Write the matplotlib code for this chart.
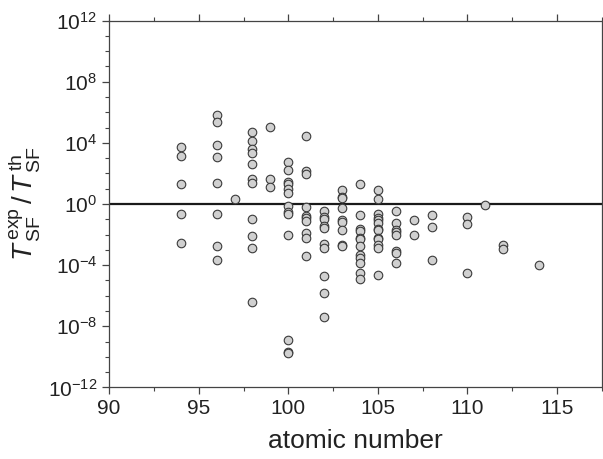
import matplotlib
matplotlib.use("Agg")
import matplotlib.pyplot as plt
from matplotlib.ticker import FixedLocator, FuncFormatter, MultipleLocator
import numpy as np

plt.rcParams['font.family'] = ['Liberation Sans', 'DejaVu Sans']
plt.rcParams['mathtext.fontset'] = 'custom'
plt.rcParams['mathtext.rm'] = 'Liberation Sans'
plt.rcParams['mathtext.it'] = 'Liberation Sans:italic'
plt.rcParams['mathtext.bf'] = 'Liberation Sans:bold'

# atomic number -> log10(T_exp / T_th)
z_values = {
    94: [3.71, 3.14, 1.29, -0.64, -2.52],
    96: [5.83, 5.35, 3.86, 3.10, 1.39, -0.64, -2.72, -3.69],
    97: [0.33],
    98: [4.73, 4.10, 3.62, 3.36, 2.62, 1.62, 1.40, -0.96, -2.10, -2.90, -6.38],
    99: [5.02, 1.63, 1.12],
    100: [2.75, 2.2, 1.44, 1.3, 1.0, 0.7, -0.16, -0.55, -0.66, -2.05, -8.87, -9.66, -9.75],
    101: [4.46, 2.17, 1.96, -0.22, -0.79, -0.94, -1.09, -1.88, -2.2, -3.37],
    102: [-0.43, -0.88, -1.0, -1.42, -1.6, -2.63, -2.85, -4.71, -5.8, -7.4],
    103: [0.93, 0.48, 0.38, -0.24, -1.05, -1.2, -1.69, -2.65, -2.74],
    104: [1.32, -0.74, -1.65, -1.78, -2.2, -2.32, -2.73, -3.35, -3.55, -3.87, -4.5, -4.9],
    105: [0.92, 0.36, -0.68, -0.92, -1.07, -1.22, -1.64, -1.72, -2.2, -2.32, -2.68, -2.86, -4.62],
    106: [-0.46, -1.26, -1.73, -1.85, -2.02, -3.08, -3.18, -3.84],
    107: [-1.06, -2.02],
    108: [-0.73, -1.52, -3.66],
    110: [-0.87, -1.31, -4.51],
    111: [-0.08],
    112: [-2.69, -2.92],
    114: [-3.96],
}

atomic_number = np.concatenate([[z] * len(v) for z, v in z_values.items()])
ratio = 10.0 ** np.concatenate(list(z_values.values()))

fig = plt.figure(figsize=(6.03, 4.59), dpi=100)
ax = fig.add_axes([0.181, 0.156, 0.817, 0.799])

ax.axhline(1.0, color='#1a1a1a', lw=1.6, zorder=1)
ax.scatter(atomic_number, ratio, s=38, facecolor='#d0d0d0',
           edgecolor='#3a3a3a', linewidths=0.8, zorder=2)

ax.set_yscale('log')
ax.set_xlim(90, 117.5)
ax.set_ylim(1e-12, 1e12)

ax.xaxis.set_major_locator(MultipleLocator(5))
ax.xaxis.set_minor_locator(MultipleLocator(2.5))
ax.yaxis.set_major_locator(FixedLocator([10.0 ** k for k in range(-12, 13, 4)]))
ax.yaxis.set_minor_locator(FixedLocator([10.0 ** k for k in range(-12, 13) if k % 4]))
ax.yaxis.set_major_formatter(FuncFormatter(lambda v, p: r'$\mathregular{10^{%d}}$' % round(np.log10(v))))
ax.yaxis.set_minor_formatter(FuncFormatter(lambda v, p: ''))

for s in ax.spines.values():
    s.set_color('#444444')
    s.set_linewidth(0.9)
ax.tick_params(which='both', direction='out', top=True, right=True,
               color='#444444', labelsize=15, labelcolor='#222222')
ax.tick_params(which='major', length=5, width=0.9)
ax.tick_params(which='minor', length=3, width=0.8)

ax.set_xlabel('atomic number', fontsize=19, color='#222222', labelpad=8)
ax.set_ylabel(r'$T^{\,\mathrm{exp}}_{\,\mathrm{SF}}\,/\,T^{\,\mathrm{th}}_{\,\mathrm{SF}}$',
              fontsize=20, color='#222222', labelpad=4)

fig.savefig('out.png', dpi=100)
